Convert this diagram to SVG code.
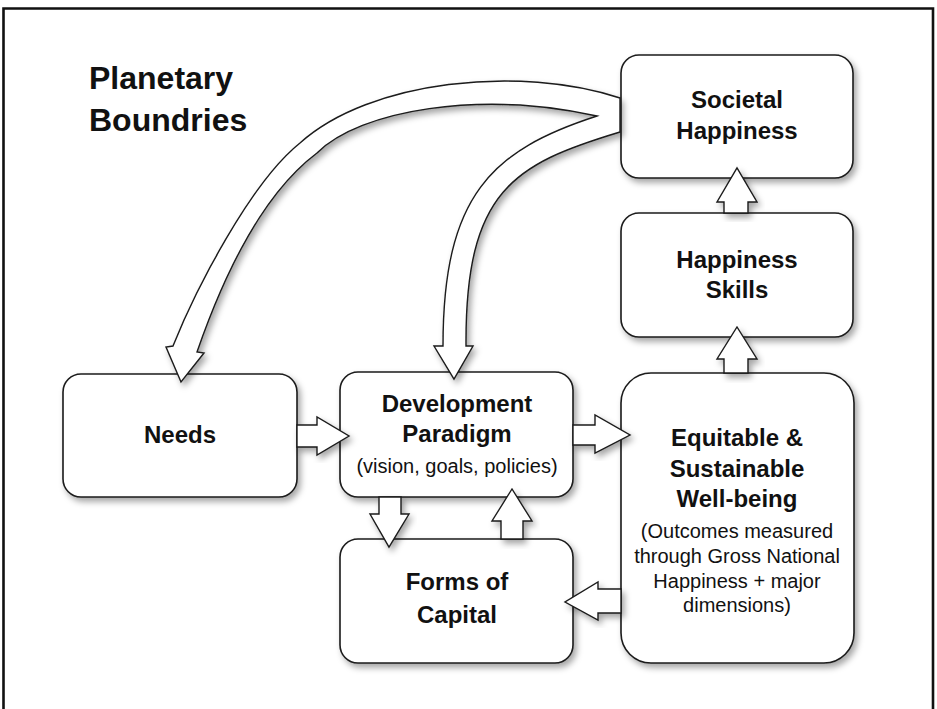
<svg xmlns="http://www.w3.org/2000/svg" width="937" height="709" viewBox="0 0 937 709">
<defs>
<filter id="sh" x="-20%" y="-20%" width="140%" height="140%">
<feDropShadow dx="3" dy="4" stdDeviation="3" flood-color="#000" flood-opacity="0.35"/>
</filter>
<style>
.box{fill:#fff;stroke:#1a1a1a;stroke-width:1.6;filter:url(#sh)}
.arr{fill:#fff;stroke:#1a1a1a;stroke-width:1.4;stroke-linejoin:miter;filter:url(#sh)}
.t{font-family:"Liberation Sans",Arial,sans-serif;font-weight:bold;font-size:24px;fill:#111;text-anchor:middle}
.s{font-family:"Liberation Sans",Arial,sans-serif;font-size:20px;fill:#111;text-anchor:middle}
.title{font-family:"Liberation Sans",Arial,sans-serif;font-weight:bold;font-size:32px;fill:#111}
</style>
</defs>
<rect width="937" height="709" fill="#fff"/>
<path d="M3.5,709 V8.5 H933 V709" fill="none" stroke="#111" stroke-width="2.6"/>
<g id="title">
<text class="title" x="89" y="89">Planetary</text>
<text class="title" x="89" y="131">Boundries</text>
</g>
<g id="societal-happiness">
<rect class="box" x="621" y="55" width="232" height="123" rx="18"/>
<text class="t" x="737" y="108">Societal</text>
<text class="t" x="737" y="139">Happiness</text>
</g>
<g id="happiness-skills">
<rect class="box" x="621" y="213" width="232" height="124" rx="18"/>
<text class="t" x="737" y="268">Happiness</text>
<text class="t" x="737" y="298">Skills</text>
</g>
<g id="equitable-wellbeing">
<rect class="box" x="621" y="373" width="233" height="290" rx="30"/>
<text class="t" x="737" y="446">Equitable &amp;</text>
<text class="t" x="737" y="477">Sustainable</text>
<text class="t" x="737" y="507">Well-being</text>
<text class="s" x="737" y="538">(Outcomes measured</text>
<text class="s" x="737" y="563">through Gross National</text>
<text class="s" x="737" y="588">Happiness + major</text>
<text class="s" x="737" y="612">dimensions)</text>
</g>
<g id="needs">
<rect class="box" x="63" y="374" width="234" height="123" rx="18"/>
<text class="t" x="180" y="443">Needs</text>
</g>
<g id="development-paradigm">
<rect class="box" x="340" y="372" width="233" height="125" rx="18"/>
<text class="t" x="457" y="412">Development</text>
<text class="t" x="457" y="442">Paradigm</text>
<text class="s" x="457" y="473">(vision, goals, policies)</text>
</g>
<g id="forms-of-capital">
<rect class="box" x="340" y="539" width="233" height="124" rx="18"/>
<text class="t" x="457" y="590">Forms of</text>
<text class="t" x="457" y="623">Capital</text>
</g>
<g id="connectors">
<path class="arr" d="M620,98 C520,65 370,80 300,143 C250,183 195,291 173,346 L166,347 L181,382 L204,353 L197,352 C223,277 261,195 317,153 C360,110 480,90 597,116 C492,150 443,195 443,346 L434,346 L454,379 L473,346 L466,346 C465,190 514,164 620,132 Z"/>
<polygon class="arr" points="297,425 317,425 317,417 349,436 317,455 317,447 297,447"/>
<polygon class="arr" points="573,425 595,425 595,415 630,435 595,453 595,445 573,445"/>
<polygon class="arr" points="379,497 401,497 401,514 409,514 389,547 370,514 379,514"/>
<polygon class="arr" points="501,539 501,521 492,521 512,489 532,521 523,521 523,539"/>
<polygon class="arr" points="621,589 598,589 598,582 565,602 598,620 598,613 621,613"/>
<polygon class="arr" points="724,213 724,202 717,202 737,168 757,202 748,202 748,213"/>
<polygon class="arr" points="724,373 724,359 717,359 737,327 757,359 748,359 748,373"/>
</g>
</svg>
